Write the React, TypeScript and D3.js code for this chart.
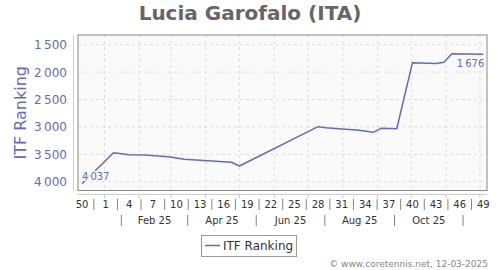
import React from "react";
import * as d3 from "d3";

const title = "Lucia Garofalo (ITA)";
const yTitle = "ITF Ranking";
const seriesName = "ITF Ranking";
const credits = "© www.coretennis.net, 12-03-2025";

// ISO week numbers of ranking entries (50 = 2024, others = 2025)
const rankWeeks = [50, 2, 4, 6, 9, 11, 13, 15, 17, 18, 28, 29, 31, 33, 35, 36, 38, 40, 43, 44, 45, 47, 49];
const ranking = [4037, 3471, 3507, 3513, 3544, 3591, 3610, 3628, 3646, 3713, 2996, 3015, 3038, 3057, 3099, 3026, 3033, 1828, 1845, 1821, 1665, 1670, 1676];

const weekTickLabels = ["50", "1", "4", "7", "10", "13", "16", "19", "22", "25", "28", "31", "34", "37", "40", "43", "46", "49"];
const monthLabels = ["Feb 25", "Apr 25", "Jun 25", "Aug 25", "Oct 25"];
const monthSeparators = ["2025-01-16", "2025-03-16", "2025-05-16", "2025-07-16", "2025-09-16", "2025-11-16"];
const yTicks = [1500, 2000, 2500, 3000, 3500, 4000];

const DAY = 86400000;
const base = Date.UTC(2024, 11, 12); // Thursday of week 50, 2024
const weekDate = (w: number) => new Date(base + 7 * DAY * (w >= 50 ? w - 50 : w + 2));
const fmt = (v: number) => d3.format(",")(v).replace(/,/g, "\u2009");

const COLOR = "#6666cc";
const FONT = "DejaVu Sans, sans-serif";

export default function App() {
  const W = 500, H = 270;
  const left = 78, right = 487, top = 35, bottom = 190.5;
  const x = d3.scaleUtc()
    .domain([new Date(Date.UTC(2024, 11, 8, 10)), new Date(Date.UTC(2025, 11, 7, 7))])
    .range([left, right]);
  const y = d3.scaleLinear().domain([1500, 4000]).range([44.7, 181.7]);

  const pts: [number, number][] = rankWeeks.map((w, i) => [x(weekDate(w)), y(ranking[i])]);
  const line = d3.line()(pts) || "";

  const monthGrid = d3.utcMonth.range(new Date(Date.UTC(2025, 0, 1)), new Date(Date.UTC(2025, 11, 2)));
  const weekLabelDates = weekTickLabels.map((_, k) => new Date(base + 21 * DAY * k));
  const weekSeps = weekTickLabels.slice(1).map((_, k) => new Date(base + 21 * DAY * k + 10.5 * DAY));
  const sepDates = monthSeparators.map((s) => new Date(s + "T00:00:00Z"));

  const first = pts[0];
  const last = pts[pts.length - 1];
  const axisY = 194.5;

  return (
    <svg width={W} height={H} style={{ position: "absolute", left: 0, top: 0, fontFamily: FONT }}>
      <rect x={0} y={0} width={W} height={H} fill="#ffffff" />
      <text x={250} y={20} textAnchor="middle" fontSize={20} fontWeight="bold" fill="#666666">{title}</text>

      <rect x={left} y={top} width={right - left} height={bottom - top} fill="#fafafa" />
      {yTicks.map((t) => (
        <line key={"gy" + t} x1={left} x2={right} y1={y(t)} y2={y(t)} stroke="#dddddd" strokeDasharray="3,3" />
      ))}
      {monthGrid.map((d, i) => (
        <line key={"gx" + i} x1={x(d)} x2={x(d)} y1={top} y2={bottom} stroke="#dddddd" strokeDasharray="3,3" />
      ))}
      <rect x={left} y={top} width={right - left} height={bottom - top} fill="none" stroke="#888888" strokeWidth={1} />

      {/* y axis */}
      <line x1={73.5} x2={73.5} y1={top} y2={bottom} stroke="#ccccdd" />
      {yTicks.map((t) => (
        <text key={"yl" + t} x={67} y={y(t) + 4.5} textAnchor="end" fontSize={12} fill={COLOR}>{fmt(t)}</text>
      ))}
      <text transform={`translate(26,${(top + bottom) / 2}) rotate(-90)`} textAnchor="middle" fontSize={16} fill={COLOR}>{yTitle}</text>

      {/* x axis */}
      <line x1={left} x2={right} y1={axisY} y2={axisY} stroke="#cccccc" />
      {monthGrid.map((d, i) => (
        <line key={"xt" + i} x1={x(d)} x2={x(d)} y1={axisY} y2={axisY + 4} stroke="#cccccc" />
      ))}
      {weekLabelDates.map((d, i) => (
        <text key={"wl" + i} x={x(d)} y={208} textAnchor="middle" fontSize={10} fill="#333333">{weekTickLabels[i]}</text>
      ))}
      {weekSeps.map((d, i) => (
        <line key={"ws" + i} x1={x(d)} x2={x(d)} y1={199} y2={210} stroke="#666666" strokeWidth={0.8} />
      ))}
      {sepDates.map((d, i) => (
        <line key={"ms" + i} x1={x(d)} x2={x(d)} y1={215} y2={226} stroke="#666666" strokeWidth={0.8} />
      ))}
      {monthLabels.map((m, i) => (
        <text key={"ml" + i} x={(x(sepDates[i]) + x(sepDates[i + 1])) / 2} y={224} textAnchor="middle" fontSize={10} fill="#333333">{m}</text>
      ))}

      {/* series */}
      <path d={line} fill="none" stroke={COLOR} strokeWidth={1.5} strokeLinejoin="round" />
      <text x={first[0]} y={first[1] - 4} fontSize={10} fill={COLOR} stroke="#fafafa" strokeWidth={3} paintOrder="stroke" strokeLinejoin="round">{fmt(ranking[0])}</text>
      <text x={last[0] + 1} y={last[1] + 12.5} textAnchor="end" fontSize={10} fill={COLOR} stroke="#fafafa" strokeWidth={3} paintOrder="stroke" strokeLinejoin="round">{fmt(ranking[ranking.length - 1])}</text>

      {/* legend */}
      <rect x={201.5} y={235.5} width={95} height={21} fill="#ffffff" stroke="#999999" />
      <line x1={205} x2={220} y1={245.5} y2={245.5} stroke={COLOR} strokeWidth={1.5} />
      <text x={223} y={250} fontSize={12} fill="#333333">{seriesName}</text>

      <text x={488} y={267} textAnchor="end" fontSize={9} fill="#888888">{credits}</text>
    </svg>
  );
}
